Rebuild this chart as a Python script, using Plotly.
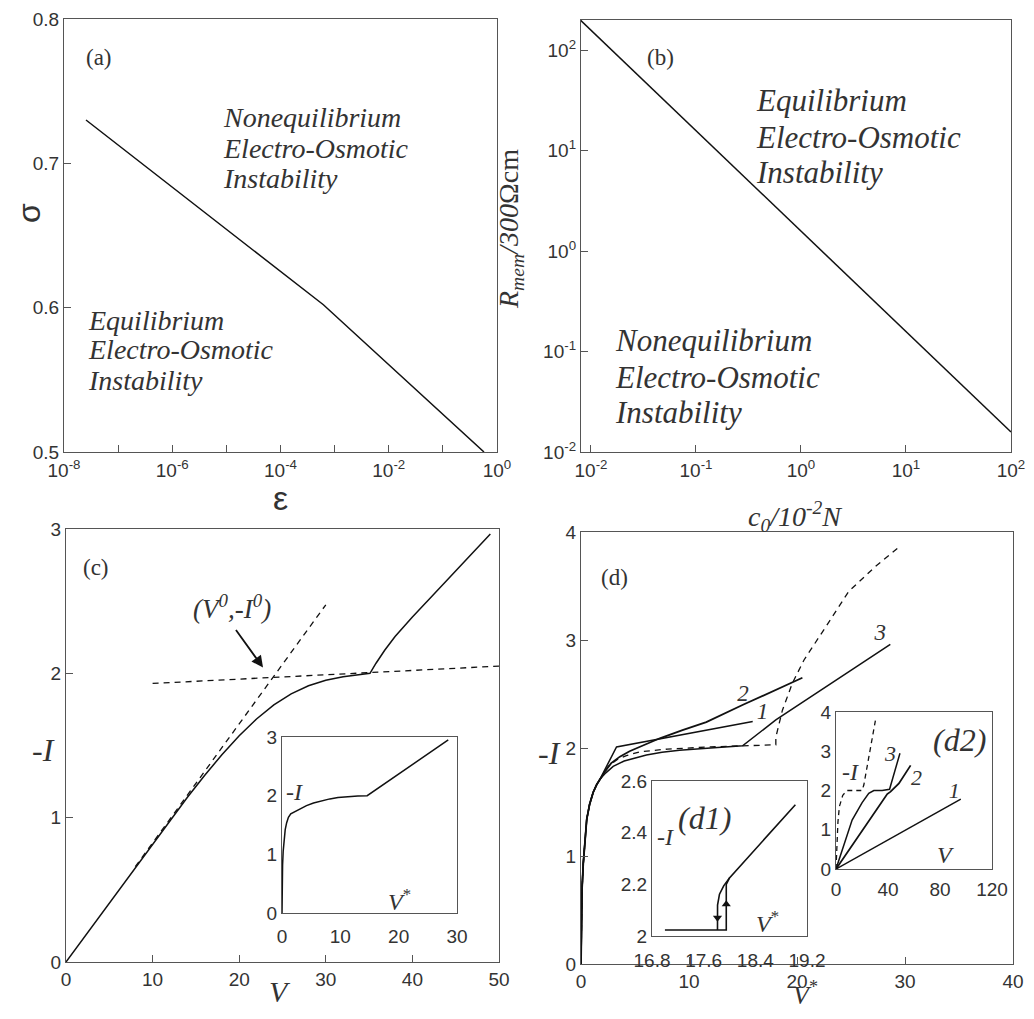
import plotly.graph_objects as go

# The page body has an 8px margin; the figure is sized so the page exactly fills 1034x1019.
PAGE_W, PAGE_H = 1034, 1019
OFF = 8
W, H = PAGE_W - 2 * OFF, PAGE_H - 2 * OFF

# ---------------- data ----------------
# (a) boundary sigma(eps)
a_eps = [2.55e-8, 6.2e-4, 0.575]
a_sigma = [0.730, 0.602, 0.500]
a_xtickvals = [1e-8, 1e-7, 1e-6, 1e-5, 1e-4, 1e-3, 1e-2, 1e-1, 1e0]
a_xticktext = ["10<sup>-8</sup>", "", "10<sup>-6</sup>", "", "10<sup>-4</sup>", "",
               "10<sup>-2</sup>", "", "10<sup>0</sup>"]
a_ytickvals = [0.5, 0.6, 0.7, 0.8]

# (b) boundary R_mem(c0)
b_c0 = [0.0079, 100]
b_R = [200, 0.0158]
b_xtickvals = [1e-2, 1e-1, 1e0, 1e1, 1e2]
b_xticktext = ["10<sup>-2</sup>", "10<sup>-1</sup>", "10<sup>0</sup>", "10<sup>1</sup>", "10<sup>2</sup>"]
b_ytickvals = [1e-2, 1e-1, 1e0, 1e1, 1e2]
b_yticktext = ["10<sup>-2</sup>", "10<sup>-1</sup>", "10<sup>0</sup>", "10<sup>1</sup>", "10<sup>2</sup>"]

# (c) main I-V curve
c_V = [0, 10, 12, 14, 16, 18, 20, 22, 24, 26, 28, 30, 32, 34, 35.1,
       35.8, 36.8, 38, 40, 42.5, 45, 49]
c_I = [0, 0.82, 0.982, 1.14, 1.292, 1.436, 1.568, 1.684, 1.782, 1.858, 1.914, 1.952, 1.976,
       1.992, 2.0, 2.07, 2.16, 2.255, 2.39, 2.55, 2.71, 2.965]
c_tan1_V = [8, 30]
c_tan1_I = [0.66, 2.475]
c_tan2_V = [10, 50]
c_tan2_I = [1.93, 2.05]
c_arrow_tail = (19.5, 2.31)
c_arrow_head = (22.75, 2.04)
# (c) inset
ci_V = [0, 0.02, 0.05, 0.1, 0.2, 0.35, 0.55, 0.8, 1.1, 1.5, 2.2, 3.1, 4.2, 5.4, 6.8, 8.2,
        9.6, 11.1, 13.0, 14.6, 28.5]
ci_I = [0, 0.35, 0.6, 0.82, 1.05, 1.25, 1.42, 1.54, 1.63, 1.69, 1.73, 1.78, 1.83, 1.875,
        1.915, 1.945, 1.97, 1.985, 1.995, 2.0, 2.95]

# (d) main curves
d_common_V = [0, 0.02, 0.05, 0.1, 0.21, 0.35, 0.53, 0.8, 1.13, 1.45, 1.75]
d_common_I = [0, 0.3, 0.5, 0.7, 0.93, 1.15, 1.34, 1.48, 1.59, 1.66, 1.71]
d1_V = d_common_V + [3.29, 15.9]
d1_I = d_common_I + [2.01, 2.245]
d2_V = d_common_V + [2.2, 2.8, 3.6, 4.5, 5.4, 6.3, 7.3, 9.4, 11.6, 15.0, 20.5]
d2_I = d_common_I + [1.78, 1.86, 1.92, 1.97, 2.01, 2.05, 2.09, 2.165, 2.24, 2.40, 2.65]
d3_V = d_common_V + [2.3, 2.98, 4.0, 5.0, 6.06, 7.5, 9.12, 12.0, 14.96, 18.04, 28.64]
d3_I = d_common_I + [1.77, 1.83, 1.88, 1.91, 1.935, 1.96, 1.98, 2.0, 2.02, 2.26, 2.96]
dd_V = d_common_V + [2.1, 2.52, 3.3, 4.2, 5.44, 8.0, 12.0, 18.04, 18.04, 18.65, 19.57, 20.65,
                     22.65, 24.79, 27.25, 29.56]
dd_I = d_common_I + [1.77, 1.83, 1.89, 1.93, 1.965, 1.99, 2.01, 2.03, 2.10, 2.35, 2.6, 2.815,
                     3.12, 3.45, 3.68, 3.87]
d_labels = ["1", "2", "3"]
d_label_V = [16.8, 15.0, 27.7]
d_label_I = [2.32, 2.49, 3.05]

# (d1) inset hysteresis
h_fwd_V = [17.0, 17.95, 17.95, 18.0, 19.02]
h_fwd_I = [2.023, 2.023, 2.2, 2.225, 2.508]
h_bwd_V = [18.0, 17.91, 17.845, 17.815, 17.814]
h_bwd_I = [2.225, 2.194, 2.162, 2.12, 2.023]
h_arrow_dn = (17.814, 2.071)
h_arrow_up = (17.95, 2.123)

# (d2) inset I(V)
e1_V = [0, 96]
e1_I = [0, 1.78]
e2_V = [0, 39.4, 42, 48.4, 57.4]
e2_I = [0, 1.91, 1.97, 2.18, 2.64]
e3_V = [0, 12.4, 20.1, 25.2, 29.1, 35.5, 41.2, 49.2]
e3_I = [0, 1.245, 1.69, 1.93, 2.0, 2.0, 2.03, 2.95]
ed_V = [0, 0.5, 1.5, 2.6, 5.2, 8.5, 20, 21.4, 30.4]
ed_I = [0, 0.6, 1.2, 1.59, 1.88, 2.0, 2.0, 2.14, 3.8]
e_labels = ["1", "2", "3"]
e_label_V = [91, 62, 42]
e_label_I = [1.95, 2.27, 2.88]

# ---------------- helpers (page pixel -> paper) ----------------
def px(x):
    return (x - OFF) / W

def py(y):
    return 1 - (y - OFF) / H

def dx(a, b):
    return [px(a), px(b)]

def dy(top, bottom):
    return [py(bottom), py(top)]

SERIF = "Liberation Serif"
SANS = "Liberation Sans"
LINE = "#111111"
FRAME = "#555555"
TXT = "#333333"

fig = go.Figure()

def line(xs, ys, xa, ya, dash=None, width=1.5):
    fig.add_trace(go.Scatter(x=xs, y=ys, mode="lines", xaxis=xa, yaxis=ya,
                             line=dict(color=LINE, width=width, dash=dash),
                             showlegend=False, hoverinfo="skip"))

DASH = "6px,5px"

line(a_eps, a_sigma, "x", "y")
line(b_c0, b_R, "x2", "y2")
line(c_V, c_I, "x3", "y3")
line(c_tan1_V, c_tan1_I, "x3", "y3", dash=DASH, width=1.3)
line(c_tan2_V, c_tan2_I, "x3", "y3", dash=DASH, width=1.3)
line(ci_V, ci_I, "x4", "y4")
line(d1_V, d1_I, "x5", "y5")
line(d2_V, d2_I, "x5", "y5", width=1.8)
line(d3_V, d3_I, "x5", "y5")
line(dd_V, dd_I, "x5", "y5", dash=DASH, width=1.3)
line(h_fwd_V, h_fwd_I, "x6", "y6", width=1.6)
line(h_bwd_V, h_bwd_I, "x6", "y6", width=1.6)
fig.add_trace(go.Scatter(x=[h_arrow_dn[0]], y=[h_arrow_dn[1]], mode="markers", xaxis="x6", yaxis="y6",
                         marker=dict(symbol="triangle-down", size=8, color=LINE),
                         showlegend=False, hoverinfo="skip"))
fig.add_trace(go.Scatter(x=[h_arrow_up[0]], y=[h_arrow_up[1]], mode="markers", xaxis="x6", yaxis="y6",
                         marker=dict(symbol="triangle-up", size=8, color=LINE),
                         showlegend=False, hoverinfo="skip"))
line(e1_V, e1_I, "x7", "y7")
line(e2_V, e2_I, "x7", "y7", width=1.8)
line(e3_V, e3_I, "x7", "y7")
line(ed_V, ed_I, "x7", "y7", dash="5px,4px", width=1.3)

# curve number labels
fig.add_trace(go.Scatter(x=d_label_V, y=d_label_I, text=d_labels, mode="text", xaxis="x5", yaxis="y5",
                         textfont=dict(family=SERIF, size=23, color=TXT, style="italic"),
                         showlegend=False, hoverinfo="skip"))
fig.add_trace(go.Scatter(x=e_label_V, y=e_label_I, text=e_labels, mode="text", xaxis="x7", yaxis="y7",
                         textfont=dict(family=SERIF, size=22, color=TXT, style="italic"),
                         showlegend=False, hoverinfo="skip"))

tickfont = dict(family=SANS, size=19, color=TXT)

def axis(domain, anchor, rng, typ="linear", tickvals=None, ticktext=None, ticks="inside",
         ticklen=7, standoff=None):
    d = dict(domain=domain, anchor=anchor, range=rng, type=typ, showline=True, mirror=True,
             linecolor=FRAME, linewidth=1.3, ticks=ticks, ticklen=ticklen, tickcolor=FRAME,
             tickwidth=1.1, showgrid=False, zeroline=False, tickfont=tickfont, fixedrange=True,
             automargin=False, ticklabeloverflow="allow")
    if tickvals is not None:
        d["tickvals"] = tickvals
    if ticktext is not None:
        d["ticktext"] = ticktext
    if standoff is not None:
        d["ticklabelstandoff"] = standoff
    return d

layout = dict(
    width=W, height=H, margin=dict(l=0, r=0, t=0, b=0, autoexpand=False),
    paper_bgcolor="white", plot_bgcolor="rgba(0,0,0,0)", showlegend=False,
    # (a)
    xaxis=axis(dx(64, 497), "y", [-8, 0], "log", a_xtickvals, a_xticktext, standoff=1),
    yaxis=axis(dy(19, 452), "x", [0.5, 0.8], tickvals=a_ytickvals,
               ticktext=["0.5", "0.6", "0.7", "0.8"]),
    # (b)
    xaxis2=axis(dx(581, 1011), "y2", [-2.095, 2.0], "log", b_xtickvals, b_xticktext, standoff=1),
    yaxis2=axis(dy(20, 452), "x2", [-2.0, 2.3], "log", b_ytickvals, b_yticktext),
    # (c)
    xaxis3=axis(dx(66, 499), "y3", [0, 50], tickvals=[0, 10, 20, 30, 40, 50]),
    yaxis3=axis(dy(529, 962), "x3", [0, 3], tickvals=[0, 1, 2, 3]),
    # (c) inset
    xaxis4=axis(dx(282, 457), "y4", [0, 30], tickvals=[0, 10, 20, 30], ticks="", standoff=6),
    yaxis4=axis(dy(737, 913), "x4", [0, 3], tickvals=[0, 1, 2, 3], ticks=""),
    # (d)
    xaxis5=axis(dx(581, 1013), "y5", [0, 40], tickvals=[0, 10, 20, 30, 40]),
    yaxis5=axis(dy(532, 964), "x5", [0, 4], tickvals=[0, 1, 2, 3, 4]),
    # (d1)
    xaxis6=axis(dx(652, 807), "y6", [16.8, 19.2], tickvals=[16.8, 17.6, 18.4, 19.2],
                ticktext=["16.8", "17.6", "18.4", "19.2"], ticks="", standoff=7),
    yaxis6=axis(dy(781, 936), "x6", [2.0, 2.6], tickvals=[2.0, 2.2, 2.4, 2.6],
                ticktext=["2", "2.2", "2.4", "2.6"], ticks=""),
    # (d2)
    xaxis7=axis(dx(836, 992), "y7", [0, 120], tickvals=[0, 40, 80, 120], ticks="", standoff=3),
    yaxis7=axis(dy(712, 869), "x7", [0, 4], tickvals=[0, 1, 2, 3, 4], ticks=""),
)
fig.update_layout(**layout)

for (x0, x1, y0, y1) in [(282, 457, 737, 913), (652, 807, 781, 936), (836, 992, 712, 869)]:
    fig.add_shape(type="rect", xref="paper", yref="paper", x0=px(x0), x1=px(x1), y0=py(y1), y1=py(y0),
                  fillcolor="white", line=dict(width=0), layer="below")

def ann(text, x, y, size, xanchor="center", family=SERIF, angle=0, color=TXT, yanchor="middle"):
    fig.add_annotation(text=text, x=px(x), y=py(y), xref="paper", yref="paper", showarrow=False,
                       xanchor=xanchor, yanchor=yanchor, textangle=angle,
                       font=dict(family=family, size=size, color=color))

# (a)
ann("(a)", 99, 58, 23)
for t, yy in zip(["Nonequilibrium", "Electro-Osmotic", "Instability"], [117, 148, 178]):
    ann("<i>%s</i>" % t, 221, yy, 28, xanchor="left")
for t, yy in zip(["Equilibrium", "Electro-Osmotic", "Instability"], [320, 350, 380]):
    ann("<i>%s</i>" % t, 86, yy, 28, xanchor="left")
ann("σ", 9, 213, 32, angle=-90, family=SANS, xanchor="left")
ann("ε", 280, 498, 34, family=SANS)

# (b)
ann("(b)", 660, 58, 23)
for t, yy in zip(["Equilibrium", "Electro-Osmotic", "Instability"], [100, 137, 172]):
    ann("<i>%s</i>" % t, 754, yy, 31, xanchor="left")
for t, yy in zip(["Nonequilibrium", "Electro-Osmotic", "Instability"], [341, 378, 413]):
    ann("<i>%s</i>" % t, 613, yy, 31, xanchor="left")
ann("<i>R<sub>mem</sub>/300</i>Ωcm", 511, 229, 28, angle=-90)
ann("<i>c<sub>0</sub>/10<sup>-2</sup>N</i>", 795, 516, 28)

# (c)
ann("(c)", 96, 567, 23)
ann("<i>(V<sup>0</sup>,-I<sup>0</sup>)</i>", 232, 607, 27)
ann("<i>-I</i>", 43, 750, 32)
ann("<i>V</i>", 280, 1010, 30, yanchor="bottom")
ann("<i>-I</i>", 294, 792, 24)
ann("<i>V</i><sup>*</sup>", 399, 900, 24)
fig.add_annotation(x=c_arrow_head[0], y=c_arrow_head[1], ax=c_arrow_tail[0], ay=c_arrow_tail[1],
                   xref="x3", yref="y3", axref="x3", ayref="y3", showarrow=True, text="",
                   arrowhead=2, arrowsize=1.3, arrowwidth=1.8, arrowcolor=LINE)

# (d)
ann("(d)", 614, 577, 23)
ann("<i>-I</i>", 549, 753, 32)
ann("<i>V</i><sup>*</sup>", 805, 1012, 26, yanchor="bottom")
ann("<i>-I</i>", 665, 837, 24)
ann("<i>(d1)</i>", 704, 818, 32)
ann("<i>V</i><sup>*</sup>", 767, 922, 24)
ann("<i>-I</i>", 850, 772, 24)
ann("<i>(d2)</i>", 959, 740, 32)
ann("<i>V</i>", 945, 855, 24)

fig.write_html("out.html")
